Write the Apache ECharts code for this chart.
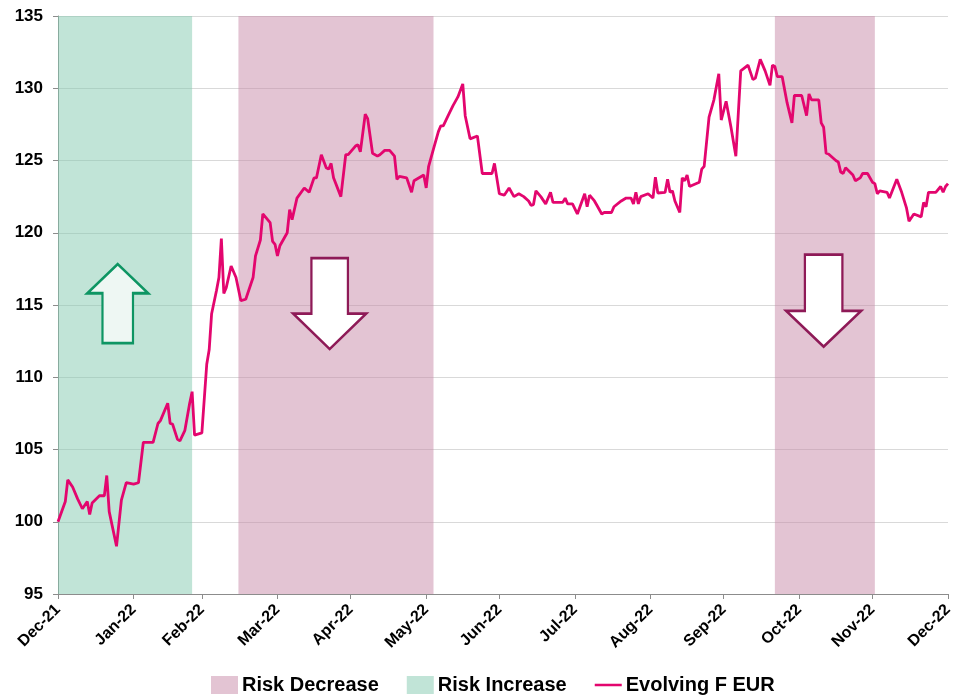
<!DOCTYPE html>
<html>
<head>
<meta charset="utf-8">
<script src="https://cdn.jsdelivr.net/npm/echarts@6/dist/echarts.min.js"></script>
<style>
  html, body { margin: 0; padding: 0; background: #fff; }
  #main { width: 965px; height: 698px; }
</style>
</head>
<body>
<div id="main"></div>
<script>
// dates and index values of the fund
var dates = [
  '2021-12-31', '2022-01-03', '2022-01-04', '2022-01-06', '2022-01-08', '2022-01-10', '2022-01-12', '2022-01-13',
  '2022-01-14', '2022-01-17', '2022-01-19', '2022-01-20', '2022-01-21', '2022-01-24', '2022-01-26', '2022-01-28',
  '2022-01-31', '2022-02-02', '2022-02-04', '2022-02-08', '2022-02-10', '2022-02-11', '2022-02-14', '2022-02-15',
  '2022-02-16', '2022-02-18', '2022-02-19', '2022-02-21', '2022-02-23', '2022-02-24', '2022-02-25', '2022-02-28',
  '2022-03-02', '2022-03-03', '2022-03-04', '2022-03-06', '2022-03-07', '2022-03-08', '2022-03-09', '2022-03-10',
  '2022-03-12', '2022-03-14', '2022-03-16', '2022-03-18', '2022-03-21', '2022-03-22', '2022-03-24', '2022-03-25',
  '2022-03-28', '2022-03-29', '2022-03-30', '2022-03-31', '2022-04-01', '2022-04-04', '2022-04-05', '2022-04-06',
  '2022-04-08', '2022-04-11', '2022-04-13', '2022-04-15', '2022-04-16', '2022-04-18', '2022-04-20', '2022-04-21',
  '2022-04-22', '2022-04-23', '2022-04-26', '2022-04-28', '2022-04-29', '2022-05-02', '2022-05-03', '2022-05-04',
  '2022-05-06', '2022-05-07', '2022-05-09', '2022-05-11', '2022-05-12', '2022-05-14', '2022-05-16', '2022-05-18',
  '2022-05-19', '2022-05-20', '2022-05-23', '2022-05-24', '2022-05-25', '2022-05-26', '2022-05-30', '2022-05-31',
  '2022-06-01', '2022-06-03', '2022-06-05', '2022-06-06', '2022-06-07', '2022-06-09', '2022-06-11', '2022-06-13',
  '2022-06-15', '2022-06-16', '2022-06-18', '2022-06-21', '2022-06-23', '2022-06-27', '2022-06-28', '2022-06-30',
  '2022-07-02', '2022-07-04', '2022-07-06', '2022-07-08', '2022-07-10', '2022-07-12', '2022-07-13', '2022-07-14',
  '2022-07-15', '2022-07-17', '2022-07-19', '2022-07-21', '2022-07-22', '2022-07-23', '2022-07-26', '2022-07-27',
  '2022-07-28', '2022-07-30', '2022-08-01', '2022-08-04', '2022-08-05', '2022-08-06', '2022-08-08', '2022-08-09',
  '2022-08-11', '2022-08-12', '2022-08-15', '2022-08-16', '2022-08-19', '2022-08-21', '2022-08-23', '2022-08-24',
  '2022-08-25', '2022-08-26', '2022-08-27', '2022-08-30', '2022-09-01', '2022-09-02', '2022-09-03', '2022-09-06',
  '2022-09-07', '2022-09-08', '2022-09-09', '2022-09-10', '2022-09-12', '2022-09-13', '2022-09-14', '2022-09-15',
  '2022-09-16', '2022-09-20', '2022-09-21', '2022-09-22', '2022-09-24', '2022-09-26', '2022-09-28', '2022-09-29',
  '2022-10-01', '2022-10-03', '2022-10-05', '2022-10-07', '2022-10-10', '2022-10-12', '2022-10-13', '2022-10-15',
  '2022-10-17', '2022-10-19', '2022-10-20', '2022-10-21', '2022-10-22', '2022-10-24', '2022-10-26', '2022-10-28',
  '2022-10-29', '2022-11-01', '2022-11-03', '2022-11-04', '2022-11-05', '2022-11-08', '2022-11-09', '2022-11-10',
  '2022-11-11', '2022-11-12', '2022-11-15', '2022-11-16', '2022-11-17', '2022-11-18', '2022-11-19', '2022-11-22',
  '2022-11-23', '2022-11-25', '2022-11-26', '2022-11-28', '2022-11-30', '2022-12-01', '2022-12-02', '2022-12-03',
  '2022-12-06', '2022-12-07', '2022-12-10', '2022-12-12', '2022-12-14', '2022-12-15', '2022-12-17', '2022-12-20',
  '2022-12-21', '2022-12-22', '2022-12-23', '2022-12-26', '2022-12-28', '2022-12-29', '2022-12-30', '2022-12-31'
];
var values = [
  100.0, 101.4, 102.9, 102.4, 101.6, 100.9, 101.4, 100.5,
  101.3, 101.8, 101.8, 103.2, 100.7, 98.3, 101.5, 102.7,
  102.6, 102.7, 105.5, 105.5, 106.8, 107.0, 108.2, 106.8,
  106.75, 105.7, 105.6, 106.3, 108.2, 109.0, 106.0, 106.15,
  110.9, 111.9, 114.4, 116.0, 116.9, 119.6, 115.8, 116.2,
  117.7, 116.9, 115.3, 115.4, 116.9, 118.4, 119.5, 121.3,
  120.7, 119.4, 119.2, 118.4, 119.1, 120.0, 121.6, 120.9,
  122.4, 123.1, 122.8, 123.8, 123.8, 125.4, 124.5, 124.4,
  124.8, 123.8, 122.5, 125.4, 125.4, 126.0, 126.1, 125.6,
  128.2, 127.9, 125.5, 125.3, 125.4, 125.7, 125.7, 125.3,
  123.7, 123.9, 123.8, 123.3, 122.8, 123.6, 124.0, 123.1,
  124.6, 125.8, 127.0, 127.4, 127.4, 128.1, 128.8, 129.4,
  130.3, 128.1, 126.5, 126.7, 124.1, 124.1, 124.8, 122.7,
  122.6, 123.1, 122.5, 122.7, 122.5, 122.2, 121.9, 121.95,
  122.9, 122.5, 122.0, 122.8, 122.1, 122.1, 122.1, 122.4,
  122.0, 122.0, 121.3, 122.7, 121.8, 122.6, 122.2, 121.9,
  121.3, 121.4, 121.4, 121.8, 122.2, 122.4, 122.4, 122.0,
  122.8, 122.0, 122.5, 122.7, 122.4, 123.85, 122.75, 122.8,
  123.7, 122.8, 122.9, 122.2, 121.4, 123.8, 123.6, 124.0,
  123.2, 123.5, 124.4, 124.6, 128.0, 129.2, 131.0, 127.8,
  129.1, 127.3, 125.3, 131.2, 131.6, 130.6, 130.7, 132.0,
  131.2, 130.2, 131.6, 131.5, 130.8, 130.8, 129.0, 127.6,
  129.5, 129.5, 128.1, 129.6, 129.2, 129.2, 127.6, 127.3,
  125.5, 125.45, 125.0, 124.9, 124.2, 124.1, 124.5, 124.0,
  123.6, 123.8, 124.1, 124.1, 123.5, 123.4, 122.7, 122.9,
  122.8, 122.4, 123.7, 122.8, 121.7, 120.8, 121.3, 121.1,
  122.1, 121.8, 122.8, 122.8, 123.2, 122.8, 123.2, 123.4
];

// shaded periods [start, end]
var riskIncrease = [['2021-12-31', '2022-02-24']];
var riskDecrease = [['2022-03-15', '2022-06-03'], ['2022-10-21', '2022-12-01']];

// axis ticks sit on month ends
var tickDates = ['2021-12-31', '2022-01-31', '2022-02-28', '2022-03-31', '2022-04-30', '2022-05-31',
  '2022-06-30', '2022-07-31', '2022-08-31', '2022-09-30', '2022-10-31', '2022-11-30', '2022-12-31'];
var monthNames = ['Jan', 'Feb', 'Mar', 'Apr', 'May', 'Jun', 'Jul', 'Aug', 'Sep', 'Oct', 'Nov', 'Dec'];

function toTime(s) {
  var parts = s.split(' ');
  var p = parts[0].split('-');
  var h = parts.length > 1 ? parseInt(parts[1], 10) : 0;
  return new Date(+p[0], +p[1] - 1, +p[2], h).getTime();
}

var tickTimes = tickDates.map(toTime);
var lineData = dates.map(function (d, i) { return [toTime(d), values[i]]; });

var upArrow = 'path://M50,0 L100,37 L75,37 L75,100 L25,100 L25,37 L0,37 Z';
var downArrow = 'path://M25,0 L75,0 L75,61 L100,61 L50,100 L0,61 L25,61 Z';
// thin bar with empty padding so the legend shows a plain line
var lineIcon = 'path://M0,0 L0,0 Z M0,7 L30,7 L30,10 L0,10 Z M0,17 L0,17 Z';

var myChart = echarts.init(document.getElementById('main'));

var option = {
    animation: false,
    grid: { left: 58, right: 17, top: 16, bottom: 104 },
    legend: {
        left: 206,
        top: 670,
        itemWidth: 27,
        itemHeight: 18,
        itemGap: 28,
        textStyle: { fontFamily: 'Liberation Sans', fontWeight: 'bold', fontSize: 20, color: '#000', padding: [0, 0, 0, -1] },
        data: [
            { name: 'Risk Decrease', icon: 'rect' },
            { name: 'Risk Increase', icon: 'rect' },
            { name: 'Evolving F EUR', icon: lineIcon, itemStyle: { color: '#e3066e', borderWidth: 0 } }
        ]
    },
    xAxis: {
        // timestamps on a plain value axis, ticks only on month ends
        type: 'value',
        min: tickTimes[0],
        max: tickTimes[tickTimes.length - 1],
        axisLine: { lineStyle: { color: '#8c8c8c', width: 1 } },
        axisTick: { show: true, length: 5, lineStyle: { color: '#8c8c8c' }, customValues: tickTimes },
        splitLine: { show: false },
        axisLabel: {
            customValues: tickTimes,
            rotate: 45,
            margin: 13,
            fontFamily: 'Liberation Sans',
            fontWeight: 'bold',
            fontSize: 16,
            color: '#000',
            formatter: function (v) {
                var d = new Date(v);
                return monthNames[d.getMonth()] + '-' + String(d.getFullYear()).slice(2);
            }
        }
    },
    yAxis: {
        type: 'value',
        min: 95,
        max: 135,
        interval: 5,
        axisLine: { show: true, lineStyle: { color: '#8c8c8c', width: 1 } },
        axisTick: { show: true, length: 5, lineStyle: { color: '#8c8c8c' } },
        splitLine: { lineStyle: { color: '#d9d9d9', width: 1 } },
        axisLabel: {
            margin: 15,
            fontFamily: 'Liberation Sans',
            fontWeight: 'bold',
            fontSize: 17,
            color: '#000'
        }
    },
    series: [
        {
            name: 'Risk Decrease',
            type: 'line',
            data: [],
            color: '#e3c4d3',
            markArea: {
                silent: true,
                itemStyle: { color: 'rgba(199,137,167,0.5)' },
                data: riskDecrease.map(function (r) { return [{ xAxis: toTime(r[0]) }, { xAxis: toTime(r[1]) }]; })
            },
            markPoint: {
                silent: true,
                label: { show: false },
                itemStyle: { color: '#ffffff', borderColor: '#8e1a57', borderWidth: 2.5 },
                data: [
                    { coord: [toTime('2022-04-21 10'), 115.1], symbol: downArrow, symbolSize: [73, 91] },
                    { coord: [toTime('2022-11-10'), 115.3], symbol: downArrow, symbolSize: [75, 92] }
                ]
            }
        },
        {
            name: 'Risk Increase',
            type: 'line',
            data: [],
            color: '#c1e4d7',
            markArea: {
                silent: true,
                itemStyle: { color: 'rgba(131,201,175,0.5)' },
                data: riskIncrease.map(function (r) { return [{ xAxis: toTime(r[0]) }, { xAxis: toTime(r[1]) }]; })
            },
            markPoint: {
                silent: true,
                label: { show: false },
                itemStyle: { color: '#eef7f3', borderColor: '#0e9563', borderWidth: 2.5 },
                data: [
                    { coord: [toTime('2022-01-24 12'), 115.1], symbol: upArrow, symbolSize: [61, 79] }
                ]
            }
        },
        {
            name: 'Evolving F EUR',
            type: 'line',
            z: 5,
            data: lineData,
            symbol: 'none',
            color: '#e3066e',
            lineStyle: { color: '#e3066e', width: 2.8 }
        }
    ]
};
myChart.setOption(option);
</script>
</body>
</html>
